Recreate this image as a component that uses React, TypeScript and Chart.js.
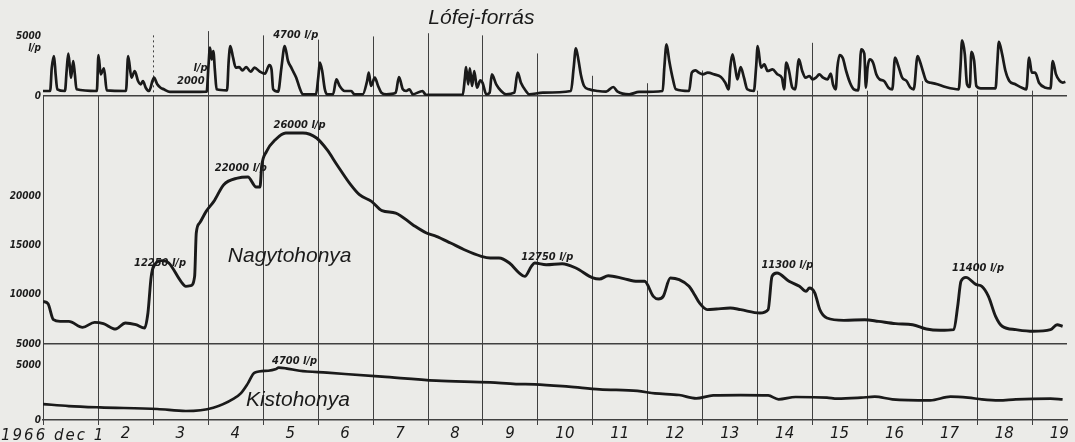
import React, { useEffect, useRef } from 'react';
import { Chart, registerables } from 'chart.js';

Chart.register(...registerables);

// ---------- data ----------
const yearMonth = '1966 dec';
const dayLabels = ['1', '2', '3', '4', '5', '6', '7', '8', '9', '10', '11', '12', '13', '14', '15', '16', '17', '18', '19'];

// Lófej-forrás (l/p), time in days from 1 Dec 00h
const lofejDays = [
  0.00, 0.13, 0.16, 0.20, 0.23, 0.26, 0.40, 0.43, 0.46, 0.49, 0.51, 0.55, 0.58, 0.61, 0.98, 1.01, 1.05, 1.11, 1.16,
  1.51, 1.55, 1.61, 1.67, 1.73, 1.78, 1.82, 1.87, 1.93, 2.02, 2.08, 2.14, 2.20, 2.31, 2.98, 3.01, 3.04, 3.07, 3.10,
  3.13, 3.16, 3.35, 3.38, 3.41, 3.46, 3.51, 3.57, 3.63, 3.70, 3.78, 3.85, 3.95, 4.04, 4.12, 4.16, 4.19, 4.28, 4.34,
  4.40, 4.46, 4.52, 4.55, 4.61, 4.67, 4.73, 4.97, 5.01, 5.04, 5.08, 5.13, 5.17, 5.28, 5.34, 5.40, 5.49, 5.61, 5.67,
  5.82, 5.90, 5.93, 5.97, 6.04, 6.10, 6.16, 6.25, 6.42, 6.48, 6.55, 6.61, 6.67, 6.73, 6.91, 6.97, 7.64, 7.68, 7.70,
  7.74, 7.77, 7.81, 7.85, 7.90, 7.96, 8.00, 8.07, 8.13, 8.17, 8.25, 8.34, 8.43, 8.58, 8.64, 8.70, 8.79, 8.85, 9.10,
  9.61, 9.66, 9.70, 9.75, 9.79, 9.85, 9.94, 10.10, 10.25, 10.38, 10.46, 10.67, 10.85, 11.28, 11.31, 11.35, 11.40,
  11.46, 11.52, 11.76, 11.81, 11.88, 11.94, 12.01, 12.10, 12.22, 12.34, 12.42, 12.48, 12.51, 12.55, 12.60, 12.64,
  12.70, 12.76, 12.82, 12.94, 12.98, 13.01, 13.07, 13.13, 13.19, 13.28, 13.37, 13.45, 13.49, 13.53, 13.58, 13.64,
  13.69, 13.76, 13.82, 13.88, 13.95, 14.01, 14.07, 14.13, 14.20, 14.28, 14.34, 14.38, 14.43, 14.46, 14.50, 14.56,
  14.62, 14.69, 14.76, 14.84, 14.87, 14.89, 14.95, 14.98, 15.01, 15.05, 15.11, 15.17, 15.23, 15.31, 15.39, 15.46,
  15.51, 15.57, 15.64, 15.72, 15.79, 15.85, 15.92, 15.96, 16.02, 16.08, 16.16, 16.28, 16.43, 16.67, 16.70, 16.73,
  16.78, 16.82, 16.87, 16.90, 16.95, 16.99, 17.07, 17.34, 17.37, 17.40, 17.46, 17.52, 17.59, 17.70, 17.82, 17.90,
  17.95, 18.00, 18.06, 18.13, 18.25, 18.34, 18.38, 18.44, 18.50, 18.56, 18.61,
];
const lofejFlow = [
  470, 470, 2660, 3760, 2030, 630, 470, 2350, 3980, 2660, 1720, 3290, 2030, 630, 470, 3850, 2030, 2600, 530,
  470, 3760, 1720, 2350, 1410, 1100, 1410, 780, 470, 1720, 1100, 780, 630, 380, 410, 2660, 4540, 3440, 4230,
  2350, 630, 530, 3290, 4700, 3600, 2660, 2720, 2410, 2720, 2280, 2660, 2280, 2100, 2910, 2500, 630, 410, 2660,
  4700, 3290, 2660, 2350, 1720, 780, 160, 160, 1720, 3130, 2410, 630, 160, 160, 1565, 940, 470, 470, 160,
  160, 1410, 2190, 940, 1720, 940, 310, 160, 310, 1780, 630, 470, 630, 160, 470, 100, 100, 1720, 2720,
  1100, 2600, 940, 2350, 780, 1470, 1250, 160, 310, 2030, 1100, 470, 160, 310, 2190, 1250, 470, 160, 310,
  470, 2660, 4480, 3290, 2030, 940, 630, 470, 410, 845, 410, 160, 380, 470, 2660, 4850, 3290,
  1720, 630, 470, 2190, 2410, 2190, 2030, 2190, 2030, 1780, 1250, 630, 2660, 3910, 2660, 1565,
  2720, 1720, 630, 470, 2660, 4700, 2660, 2970, 2350, 2500, 2030, 1720, 630, 3130, 2350, 780,
  630, 3440, 2350, 1720, 1880, 1565, 1720, 2030, 1720, 1565, 2100, 1100, 630, 2660, 3850, 3540,
  2350, 1250, 630, 530, 2660, 4380, 3980, 780, 2660, 3440, 3130, 2030, 1565, 1410, 780, 630,
  3600, 2820, 1720, 1410, 780, 630, 3760, 3290, 2280, 1410, 1250, 1100, 845, 630, 2660, 5230,
  3910, 1100, 845, 4160, 3290, 940, 720, 720, 2970, 5100, 3910, 2350, 1410, 1100, 780, 630,
  3600, 2190, 2190, 1250, 780, 720, 3290, 2030, 1470, 1250, 1345,
];

// Nagytohonya (l/p)
const nagyDays = [
  0.00, 0.09, 0.19, 0.31, 0.47, 0.72, 0.94, 1.10, 1.32, 1.50, 1.69, 1.85, 1.91, 1.97, 2.07, 2.16, 2.29, 2.51, 2.60,
  2.69, 2.76, 2.79, 2.85, 2.97, 3.11, 3.29, 3.54, 3.73, 3.88, 3.95, 3.98, 4.07, 4.23, 4.42, 4.73, 4.98, 5.17, 5.35,
  5.60, 5.76, 5.98, 6.17, 6.42, 6.73, 6.98, 7.16, 7.42, 7.67, 7.98, 8.14, 8.30, 8.49, 8.67, 8.77, 8.89, 8.95, 9.16,
  9.45, 9.70, 10.01, 10.13, 10.29, 10.57, 10.82, 10.95, 11.11, 11.20, 11.29, 11.42, 11.58, 11.76, 11.86, 11.95,
  12.09, 12.26, 12.51, 12.70, 13.05, 13.20, 13.27, 13.36, 13.58, 13.77, 13.89, 13.95, 14.05, 14.14, 14.27, 14.58,
  14.96, 15.21, 15.52, 15.83, 16.08, 16.33, 16.58, 16.65, 16.71, 16.80, 16.99, 17.09, 17.21, 17.34, 17.46, 17.71,
  18.02, 18.34, 18.46, 18.56,
];
const nagyFlow = [
  9330, 9100, 7470, 7300, 7300, 6690, 7200, 7070, 6520, 7130, 6960, 6630, 8150, 11870, 13300, 13470, 13230, 11370, 10860,
  10930, 11870, 16280, 17290, 18480, 19490, 21190, 21860, 21970, 20950, 20950, 23050, 24570, 25760, 26440, 26440, 25930, 24740, 23220,
  21190, 20170, 19490, 18550, 18310, 17120, 16280, 15940, 15260, 14580, 13910, 13740, 13740, 13230, 12210, 11870, 12890, 13230, 13060,
  13160, 12720, 11710, 11600, 11940, 11640, 11370, 11370, 9840, 9570, 9840, 11710, 11540, 10860, 10010, 9170,
  8490, 8560, 8660, 8490, 8150, 8490, 11870, 12210, 11370, 10860, 10350, 10690, 10180, 8490, 7640, 7400,
  7470, 7300, 7070, 6960, 6520, 6390, 6460, 8830, 11370, 11770, 11030, 10860, 9840, 7810, 6800, 6460,
  6290, 6460, 6960, 6800,
];

// Kistohonya (l/p)
const kisDays = [
  0.00, 0.47, 1.03, 2.08, 2.60, 3.10, 3.48, 3.60, 3.73, 3.85, 4.10, 4.23, 4.29, 4.42, 4.67, 5.17, 6.17, 7.16, 8.14,
  8.61, 8.95, 9.57, 10.13, 10.82, 11.14, 11.58, 11.89, 12.20, 12.70, 13.20, 13.39, 13.70, 14.27, 14.46, 14.89, 15.14,
  15.46, 16.15, 16.52, 16.84, 17.09, 17.40, 17.71, 18.34, 18.56,
];
const kisFlow = [
  1450, 1270, 1150, 1000, 820, 1120, 1970, 2420, 3330, 4300, 4480, 4610, 4760, 4700, 4480, 4300, 3940, 3580, 3420,
  3270, 3240, 3030, 2790, 2640, 2420, 2270, 1970, 2240, 2270, 2240, 1880, 2090, 2030, 1940, 2030, 2120,
  1880, 1790, 2120, 2030, 1880, 1790, 1880, 1940, 1880,
];

const lofejTicks = [0, 5000];
const nagyTicks = [5000, 10000, 15000, 20000];
const kisTicks = [0, 5000];

// text notes written on the chart (anchored in data units)
const notes = [
  { text: 'Lófej-forrás', day: 7.98, value: 7330, axis: 'yL', kind: 'title' },
  { text: '4700 l/p', day: 4.6, value: 5730, axis: 'yL', kind: 'note' },
  { text: 'l/p', day: 2.87, value: 2630, axis: 'yL', kind: 'note' },
  { text: '2000', day: 2.69, value: 1410, axis: 'yL', kind: 'note' },
  { text: '26000 l/p', day: 4.67, value: 27260, axis: 'yN', kind: 'note' },
  { text: '22000 l/p', day: 3.6, value: 22890, axis: 'yN', kind: 'note' },
  { text: '12250 l/p', day: 2.13, value: 13230, axis: 'yN', kind: 'note' },
  { text: 'Nagytohonya', day: 4.49, value: 13940, axis: 'yN', kind: 'title' },
  { text: '12750 l/p', day: 9.18, value: 13840, axis: 'yN', kind: 'note' },
  { text: '11300 l/p', day: 13.55, value: 13030, axis: 'yN', kind: 'note' },
  { text: '11400 l/p', day: 17.02, value: 12720, axis: 'yN', kind: 'note' },
  { text: '4700 l/p', day: 4.58, value: 5360, axis: 'yK', kind: 'note' },
  { text: 'Kistohonya', day: 4.64, value: 1780, axis: 'yK', kind: 'title' },
];

// ---------- styles ----------
const PAPER = '#ebebe8';
const INK = '#1a1a1a';
const GRID = '#404040';
const NARROW = '"Liberation Sans Narrow", "DejaVu Sans Condensed", "Liberation Sans", sans-serif';
const NOTE_FONT = `italic bold 11px ${NARROW}`;
const TITLE_FONT = 'italic 21px "Liberation Sans", "DejaVu Sans", sans-serif';
const DAY_FONT_FAMILY = '"DejaVu Sans", sans-serif';
// how far each day line reaches up into the Lófej panel (in l/p of that panel)
const dayLineReach = [0, 0, 5700, 6100, 5700, 5300, 5600, 5900, 5700, 4000, 1900, 1200, 2400, 500, 5000, 500, 1400, 500, 500];
const dottedDays = [2];

const paperPlugin = {
  id: 'paper',
  beforeDraw(chart: any) {
    const { ctx, width, height } = chart;
    ctx.save();
    ctx.fillStyle = PAPER;
    ctx.fillRect(0, 0, width, height);
    ctx.restore();
  },
};

const dayLinesPlugin = {
  id: 'dayLines',
  beforeDatasetsDraw(chart: any) {
    const { ctx } = chart;
    const x = chart.scales.x;
    const yL = chart.scales.yL;
    const base = yL.getPixelForValue(0);
    const bottom = x.top + 5;
    ctx.save();
    ctx.strokeStyle = GRID;
    ctx.lineWidth = 1;
    dayLabels.forEach((_, d) => {
      const px = Math.round(x.getPixelForValue(d)) + 0.5;
      if (px > x.right + 1) return;
      ctx.setLineDash([]);
      ctx.beginPath();
      ctx.moveTo(px, base);
      ctx.lineTo(px, bottom);
      ctx.stroke();
      const reach = dayLineReach[d] || 0;
      if (reach > 0) {
        ctx.setLineDash(dottedDays.includes(d) ? [2, 3] : []);
        ctx.beginPath();
        ctx.moveTo(px, yL.getPixelForValue(reach));
        ctx.lineTo(px, base);
        ctx.stroke();
      }
    });
    ctx.restore();
  },
};

const notesPlugin = {
  id: 'notes',
  afterDatasetsDraw(chart: any) {
    const { ctx } = chart;
    const x = chart.scales.x;
    ctx.save();
    ctx.fillStyle = INK;
    ctx.textAlign = 'center';
    ctx.textBaseline = 'middle';
    notes.forEach((n) => {
      ctx.font = n.kind === 'title' ? TITLE_FONT : NOTE_FONT;
      ctx.fillText(n.text, x.getPixelForValue(n.day), chart.scales[n.axis].getPixelForValue(n.value));
    });
    // first day label carries year and month
    ctx.font = `italic 15px ${DAY_FONT_FAMILY}`;
    ctx.textAlign = 'left';
    try { (ctx as any).letterSpacing = '2px'; } catch (e) { /* ignore */ }
    ctx.fillText(`${yearMonth} ${dayLabels[0]}`, 1, x.top + 16);
    ctx.restore();
  },
};

const yFont = { family: NARROW, size: 10, style: 'italic' as const, weight: 'bold' as const };

function yAxis(min: number, max: number, ticks: number[], weight: number, stackWeight: number, gridAt: number | null, label: (v: number) => any) {
  return {
    type: 'linear' as const,
    position: 'left' as const,
    stack: 'panels',
    stackWeight,
    weight,
    min,
    max,
    afterBuildTicks: (s: any) => { s.ticks = ticks.map((v) => ({ value: v })); },
    afterFit: (s: any) => { s.width = 43; },
    ticks: { padding: 2, color: INK, font: yFont, callback: (v: any) => label(Number(v)) },
    grid: {
      drawTicks: false,
      lineWidth: 1.4,
      color: (c: any) => (gridAt !== null && c.tick && c.tick.value === gridAt ? GRID : 'rgba(0,0,0,0)'),
    },
    border: { display: false },
  };
}

export default function App() {
  const ref = useRef<HTMLCanvasElement>(null);

  useEffect(() => {
    const canvas = ref.current;
    if (!canvas) return;
    const line = (days: number[], vals: number[], axis: string, w: number) => ({
      data: days.map((d, i) => ({ x: d, y: vals[i] })),
      xAxisID: 'x',
      yAxisID: axis,
      borderColor: INK,
      borderWidth: w,
      pointRadius: 0,
      fill: false,
      borderJoinStyle: 'round' as const,
      cubicInterpolationMode: 'monotone' as const,
    });
    const chart = new Chart(canvas, {
      type: 'line',
      data: {
        datasets: [
          { label: 'Lófej-forrás', ...line(lofejDays, lofejFlow, 'yL', 2.7) },
          { label: 'Nagytohonya', ...line(nagyDays, nagyFlow, 'yN', 2.9) },
          { label: 'Kistohonya', ...line(kisDays, kisFlow, 'yK', 2.7) },
        ],
      },
      options: {
        animation: false,
        responsive: false,
        events: [],
        layout: { padding: { top: 26, right: 8, left: 0, bottom: 0 } },
        plugins: { legend: { display: false }, tooltip: { enabled: false }, title: { display: false } },
        scales: {
          x: {
            type: 'linear',
            position: 'bottom',
            min: 0,
            max: 18.64,
            afterBuildTicks: (s: any) => { s.ticks = dayLabels.map((_, i) => ({ value: i + 0.5 })); },
            afterFit: (s: any) => { s.height = 22; },
            ticks: {
              autoSkip: false,
              maxRotation: 0,
              padding: 5,
              color: INK,
              font: { family: DAY_FONT_FAMILY, size: 15, style: 'italic' },
              callback: (_v: any, i: number) => (i === 0 ? '' : dayLabels[i]),
            },
            grid: { drawOnChartArea: false, drawTicks: false },
            border: { display: true, color: GRID, width: 1.4 },
          },
          yK: yAxis(0, 6910, kisTicks, 1, 76, null, (v) => String(v)),
          yN: yAxis(5000, 30200, nagyTicks, 2, 248, 5000, (v) => String(v)),
          yL: yAxis(0, 6580, lofejTicks, 3, 70, 0, (v) => (v === 5000 ? ['5000', 'l/p'] : String(v))),
        } as any,
      },
      plugins: [paperPlugin, dayLinesPlugin, notesPlugin],
    });
    return () => chart.destroy();
  }, []);

  return (
    <div style={{ position: 'fixed', left: 0, top: 0, width: 1075, height: 442, background: PAPER }}>
      <canvas ref={ref} width={1075} height={442} style={{ display: 'block', width: 1075, height: 442 }} />
    </div>
  );
}
